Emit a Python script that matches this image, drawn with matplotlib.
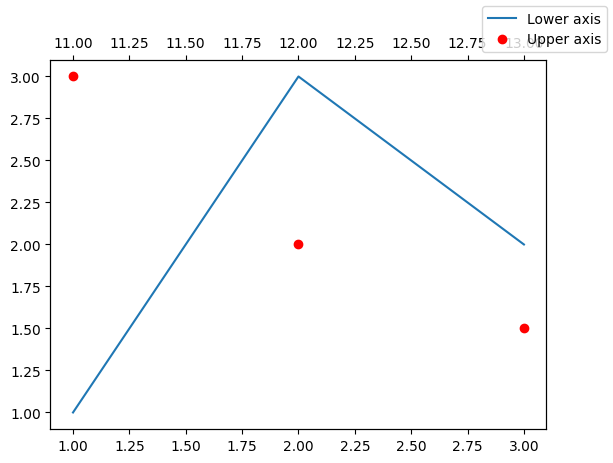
import matplotlib
matplotlib.use("Agg")
import matplotlib.pyplot as plt

# lower axis series
x_lower = [1, 2, 3]
y_lower = [1, 3, 2]

# upper axis series
x_upper = [11, 12, 13]
y_upper = [3, 2, 1.5]

fig, ax = plt.subplots(figsize=(6.4, 4.8), dpi=100)
ax.plot(x_lower, y_lower, label='Lower axis')

ax2 = ax.twiny()
ax2.plot(x_upper, y_upper, 'ro', label='Upper axis')

fig.legend(loc='upper right')
fig.savefig('out.png', bbox_inches='tight')
